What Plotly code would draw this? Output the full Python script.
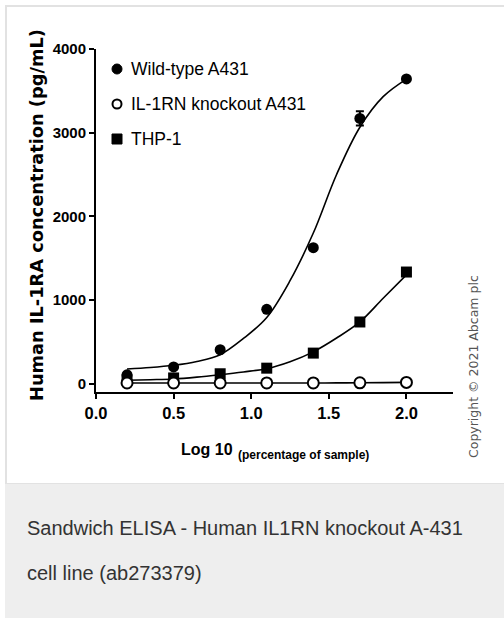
import plotly.graph_objects as go

# ---------------- data ----------------
x_points = [0.2, 0.5, 0.8, 1.1, 1.4, 1.7, 2.0]
wild_type = [105, 200, 405, 888, 1625, 3170, 3642]
wild_err = [0, 0, 0, 0, 0, 85, 0]
knockout = [8, 8, 8, 8, 8, 10, 15]
thp1 = [45, 68, 118, 185, 365, 737, 1334]

x_curve = [0.2, 0.35, 0.5, 0.65, 0.8, 0.95, 1.1, 1.25, 1.4, 1.55, 1.7, 1.85, 2.0]
wild_curve = [175, 192, 219, 265, 346, 540, 790, 1230, 1800, 2500, 3065, 3430, 3640]
thp1_curve = [40, 47, 56, 78, 107, 140, 179, 262, 380, 545, 737, 1020, 1300]
ko_curve = [8, 8, 8, 8, 8, 8, 8, 8, 8, 9, 10, 12, 15]

x_ticks = [0.0, 0.5, 1.0, 1.5, 2.0]
y_ticks = [0, 1000, 2000, 3000, 4000]

series_names = ["Wild-type A431", "IL-1RN knockout A431", "THP-1"]

# ---------------- geometry ----------------
W, H = 504, 619
L, R, T, B = 96, 453, 49, 392


def px(x):
    return (x - L) / (R - L)


def py(y):
    return (B - y) / (B - T)


SANS = "Liberation Sans, Arial, sans-serif"

fig = go.Figure()

fig.add_trace(go.Scatter(x=x_curve, y=wild_curve, mode="lines", line=dict(color="black", width=1.6, shape="spline"),
                         showlegend=False, hoverinfo="skip"))
fig.add_trace(go.Scatter(x=x_curve, y=thp1_curve, mode="lines", line=dict(color="black", width=1.6, shape="spline"),
                         showlegend=False, hoverinfo="skip"))
fig.add_trace(go.Scatter(x=x_points, y=wild_type, mode="markers", name=series_names[0],
                         marker=dict(symbol="circle", size=11, color="black"),
                         error_y=dict(type="data", array=wild_err, color="black", thickness=2, width=4),
                         showlegend=False))
fig.add_trace(go.Scatter(x=x_points, y=thp1, mode="markers", name=series_names[2],
                         marker=dict(symbol="square", size=11, color="black"), showlegend=False))
fig.add_trace(go.Scatter(x=x_curve, y=ko_curve, mode="lines", line=dict(color="black", width=1.6, shape="spline"),
                         showlegend=False, hoverinfo="skip"))
fig.add_trace(go.Scatter(x=x_points, y=knockout, mode="markers", name=series_names[1],
                         marker=dict(symbol="circle", size=11, color="white", line=dict(color="black", width=2)),
                         showlegend=False))

shapes = []
# panel border and caption background
shapes.append(dict(type="rect", xref="paper", yref="paper", x0=px(6), x1=px(506), y0=py(484), y1=py(6),
                   line=dict(color="#e2e2e2", width=2), fillcolor="rgba(0,0,0,0)", layer="below"))
shapes.append(dict(type="rect", xref="paper", yref="paper", x0=px(5), x1=px(506), y0=py(618), y1=py(484),
                   line=dict(width=0), fillcolor="#eeeeee", layer="below"))

# legend markers
leg_x = 117
leg_y = [69, 104, 139]
shapes.append(dict(type="circle", xref="paper", yref="paper", xsizemode="pixel", ysizemode="pixel",
                   xanchor=px(leg_x), yanchor=py(leg_y[0]), x0=-5, x1=5, y0=-5, y1=5,
                   fillcolor="black", line=dict(color="black", width=1)))
shapes.append(dict(type="circle", xref="paper", yref="paper", xsizemode="pixel", ysizemode="pixel",
                   xanchor=px(leg_x), yanchor=py(leg_y[1]), x0=-4.5, x1=4.5, y0=-4.5, y1=4.5,
                   fillcolor="white", line=dict(color="black", width=2)))
shapes.append(dict(type="rect", xref="paper", yref="paper", xsizemode="pixel", ysizemode="pixel",
                   xanchor=px(leg_x), yanchor=py(leg_y[2]), x0=-5, x1=5, y0=-5, y1=5,
                   fillcolor="black", line=dict(color="black", width=1)))

annotations = []
for name, yy in zip(series_names, leg_y):
    annotations.append(dict(text=name, xref="paper", yref="paper", x=px(129), y=py(yy),
                            xanchor="left", yanchor="middle", showarrow=False,
                            font=dict(family=SANS, size=17.5, color="black")))

annotations.append(dict(text="<b>Human IL-1RA concentration (pg/mL)</b>", xref="paper", yref="paper",
                        x=px(36), y=py(215), textangle=-90, showarrow=False, xanchor="center", yanchor="middle",
                        font=dict(family="DejaVu Sans, sans-serif", size=17.8, color="black")))
annotations.append(dict(text="<b>Log 10</b>", xref="paper", yref="paper", x=px(179), y=py(449),
                        xanchor="left", yanchor="middle", showarrow=False,
                        font=dict(family=SANS, size=16, color="black")))
annotations.append(dict(text="<b>(percentage of sample)</b>", xref="paper", yref="paper", x=px(236), y=py(455),
                        xanchor="left", yanchor="middle", showarrow=False,
                        font=dict(family=SANS, size=12, color="black")))
annotations.append(dict(text="Copyright © 2021 Abcam plc", xref="paper", yref="paper", x=px(473), y=py(367),
                        textangle=-90, showarrow=False, xanchor="center", yanchor="middle",
                        font=dict(family="DejaVu Sans, sans-serif", size=12.5, color="#555555")))
annotations.append(dict(text="Sandwich ELISA - Human IL1RN knockout A-431", xref="paper", yref="paper",
                        x=px(25), y=py(528), xanchor="left", yanchor="middle", showarrow=False,
                        font=dict(family=SANS, size=20, color="#333333")))
annotations.append(dict(text="cell line (ab273379)", xref="paper", yref="paper",
                        x=px(25), y=py(573), xanchor="left", yanchor="middle", showarrow=False,
                        font=dict(family=SANS, size=20, color="#333333")))

fig.update_layout(
    width=W, height=H,
    margin=dict(l=L, r=W - R, t=T, b=H - B, pad=0),
    paper_bgcolor="white", plot_bgcolor="white",
    shapes=shapes, annotations=annotations,
    showlegend=False,
    xaxis=dict(range=[0, 2.3], tickvals=x_ticks, ticktext=[f"{v:.1f}" for v in x_ticks],
               showline=True, linecolor="black", linewidth=2, ticks="outside", ticklen=5, tickwidth=2,
               tickcolor="black", showgrid=False, zeroline=False,
               tickfont=dict(family=SANS, size=16.5, color="black", weight="bold")),
    yaxis=dict(range=[-100, 4000], tickvals=y_ticks, ticktext=[str(v) for v in y_ticks],
               showline=True, linecolor="black", linewidth=2, ticks="outside", ticklen=5, tickwidth=2,
               tickcolor="black", showgrid=False, zeroline=False,
               tickfont=dict(family=SANS, size=15, color="black", weight="bold")),
)

fig.write_html("out.html", config={"displayModeBar": False},
               post_script="document.body.style.margin='0';")
